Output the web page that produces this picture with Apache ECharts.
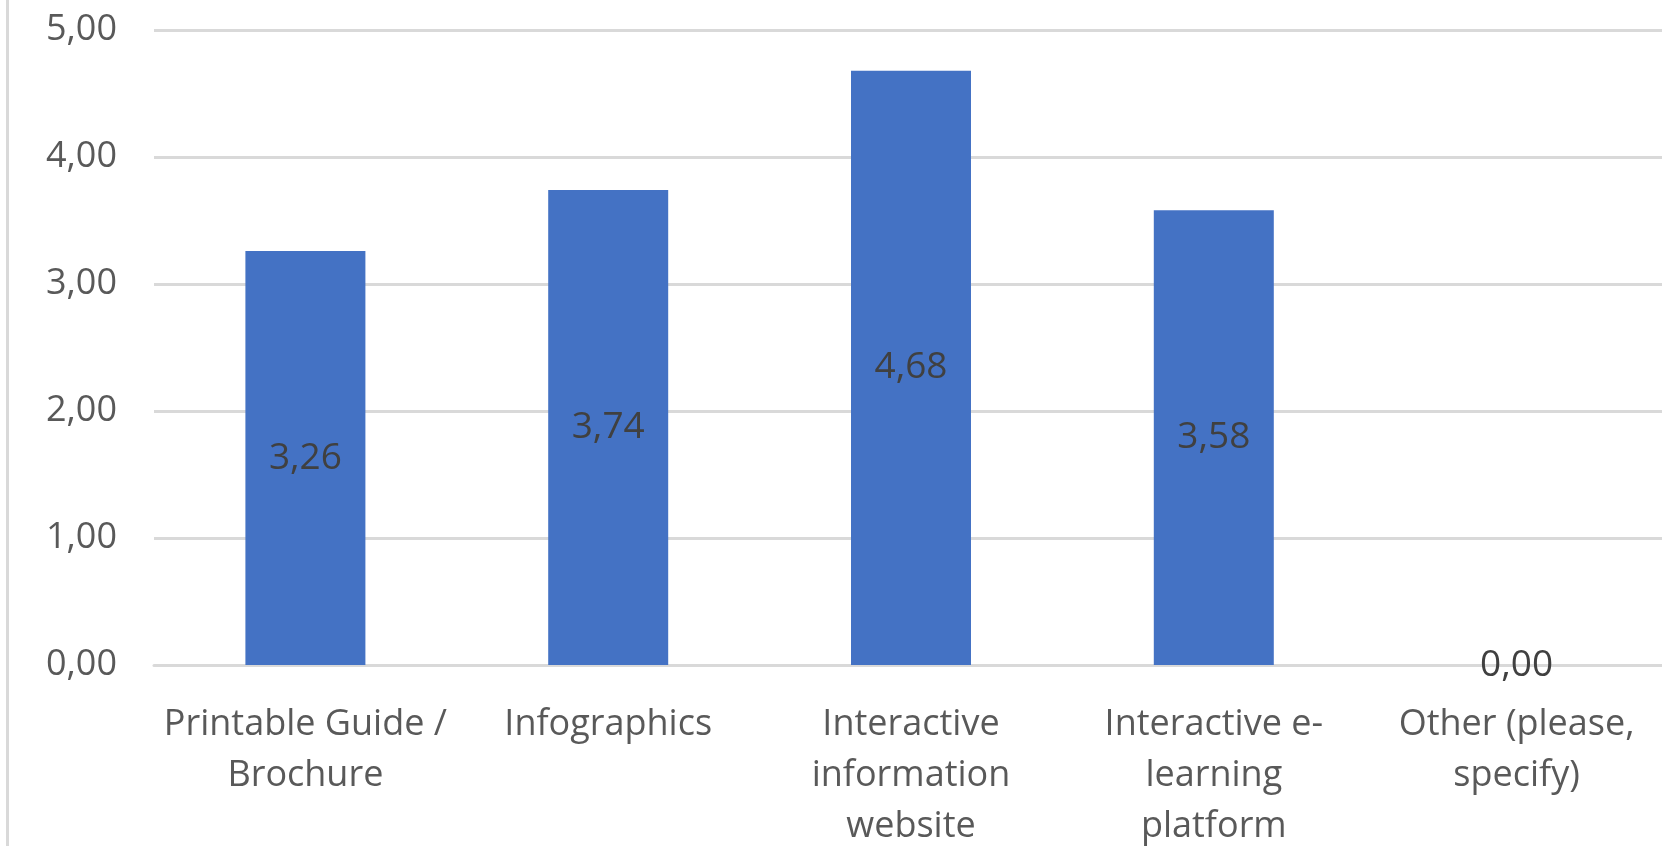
<!DOCTYPE html>
<html>
<head>
<meta charset="utf-8">
<script src="https://cdn.jsdelivr.net/npm/echarts@6/dist/echarts.min.js"></script>
<style>
  html, body { margin: 0; padding: 0; background: #fff; }
  #chart { width: 1662px; height: 846px; }
</style>
</head>
<body>
<div id="chart"></div>
<script>
// categories and values
const categories = [
  'Printable Guide /\nBrochure',
  'Infographics',
  'Interactive\ninformation\nwebsite',
  'Interactive e-\nlearning\nplatform',
  'Other (please,\nspecify)'
];
const scores = [3.26, 3.74, 4.68, 3.58, 0];
const yTicks = [0, 1, 2, 3, 4, 5];

// comma as decimal separator
function fmt(v) {
  return Number(v).toFixed(2).replace('.', ',');
}

let chart = echarts.init(document.getElementById('chart'));
let option = {
  animation: false,
  textStyle: { fontFamily: 'Open Sans' },
  grid: { left: 154, right: -6, top: 30, bottom: 181, outerBoundsMode: 'none' },
  graphic: [
    // thin frame line on the left edge
    { type: 'rect', shape: { x: 6, y: 0, width: 3, height: 846 }, style: { fill: '#d9d9d9' } }
  ],
  xAxis: {
    type: 'category',
    data: categories,
    axisLine: { lineStyle: { color: '#d9d9d9', width: 3 } },
    axisTick: { show: false },
    axisLabel: {
      color: '#595959',
      fontSize: 36,
      lineHeight: 51,
      margin: 34,
      interval: 0
    }
  },
  yAxis: {
    type: 'value',
    min: yTicks[0],
    max: yTicks[yTicks.length - 1],
    interval: 1,
    axisLine: { show: false },
    axisTick: { show: false },
    axisLabel: {
      color: '#595959',
      fontSize: 36,
      margin: 37,
      formatter: fmt
    },
    splitLine: { lineStyle: { color: '#d9d9d9', width: 3 } }
  },
  series: [
    {
      type: 'bar',
      data: scores,
      barWidth: 120,
      itemStyle: { color: '#4472C4' },
      label: {
        show: true,
        position: 'inside',
        color: '#404040',
        fontSize: 37,
        formatter: p => fmt(p.value)
      }
    }
  ]
};
chart.setOption(option);
</script>
</body>
</html>
